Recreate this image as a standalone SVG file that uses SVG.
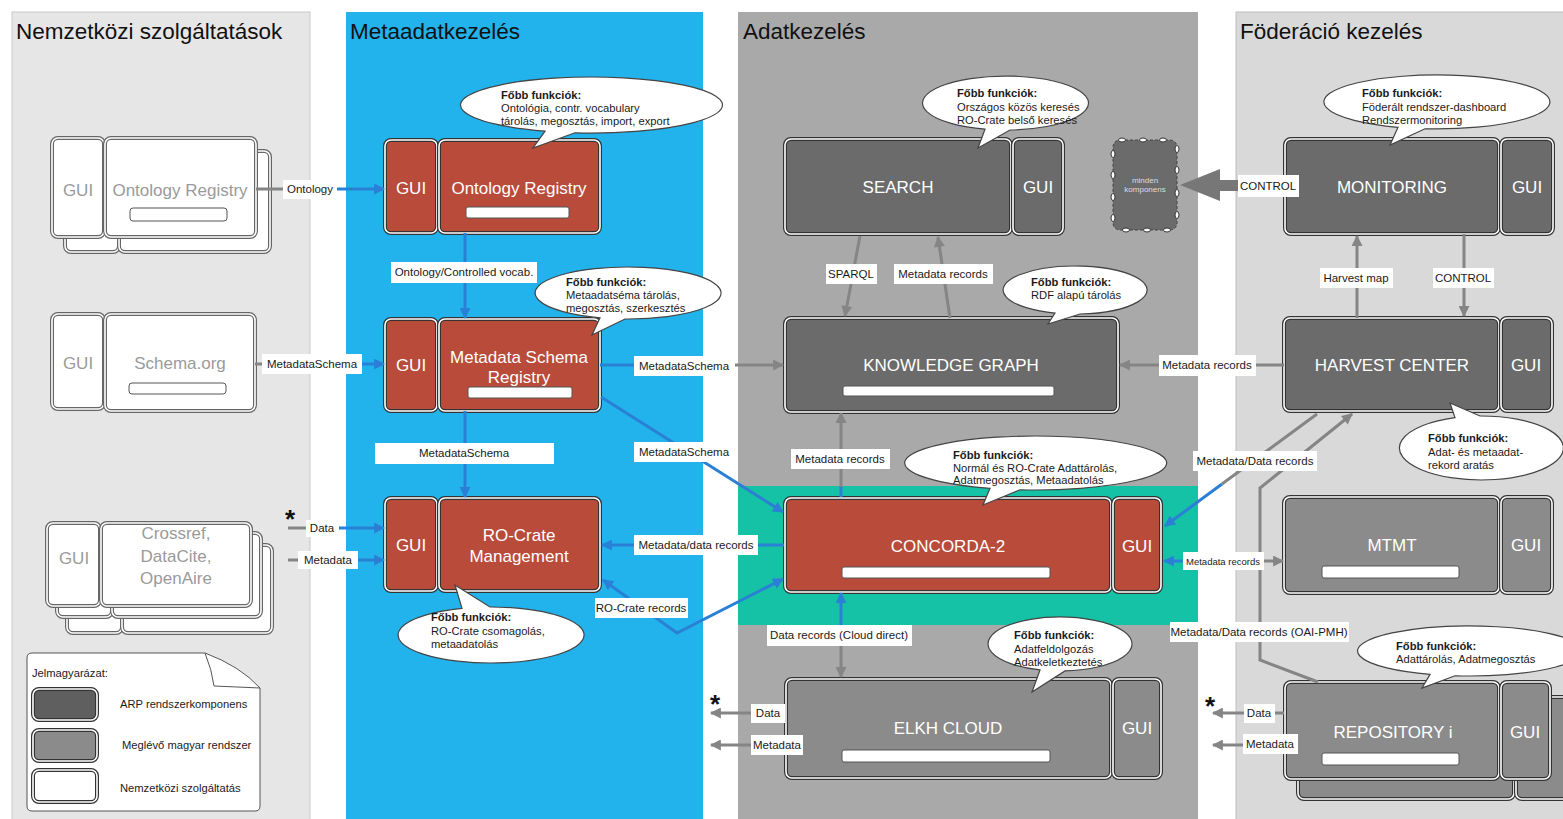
<svg xmlns="http://www.w3.org/2000/svg" width="1563" height="819" viewBox="0 0 1563 819">
<style>
text{font-family:"Liberation Sans",Arial,sans-serif}
.title{font-size:22.5px;fill:#111}
.o{stroke:#333;stroke-width:4}
.ow{stroke:#666;stroke-width:4}
.i{fill:none;stroke:#fff;stroke-width:1.6}
.red{fill:#b84b3a}.dk{fill:#6b6b6b}.md{fill:#8b8b8b}.wh{fill:#fff}
.nl{font-size:17px;fill:#fff;text-anchor:middle}
.wl{font-size:17px;fill:#9a9a9a;text-anchor:middle}
.bar{fill:#fff;stroke:#555;stroke-width:1}
.bl{stroke:#2a80d4;stroke-width:3;fill:none}
.gr{stroke:#858585;stroke-width:3;fill:none}
.lb{fill:#fff}
.cl{font-size:11.5px;fill:#1a1a1a;text-anchor:middle}
.co{fill:#fff;stroke:#444;stroke-width:1.2}
.ct{font-size:11.2px;fill:#1a1a1a}
.cb{font-weight:bold}
.star{font-size:26px;font-weight:bold;fill:#111}
.lg{font-size:11.2px;fill:#1a1a1a}
.hd{fill:#fff;stroke:#333;stroke-width:1}
</style>
<defs>
<marker id="ab" viewBox="0 0 10 10" refX="9" refY="5" markerUnits="userSpaceOnUse" markerWidth="12" markerHeight="11" orient="auto-start-reverse"><path d="M0,0 L10,5 L0,10 z" fill="#2a80d4"/></marker>
<marker id="ag" viewBox="0 0 10 10" refX="9" refY="5" markerUnits="userSpaceOnUse" markerWidth="12" markerHeight="11" orient="auto-start-reverse"><path d="M0,0 L10,5 L0,10 z" fill="#858585"/></marker>
</defs>
<rect width="1563" height="819" fill="#fff"/>
<g id="columns">
<rect x="12" y="12" width="298" height="820" fill="#e6e6e6" stroke="#c9c9c9"/>
<rect x="346" y="12" width="357" height="820" fill="#22b2ec"/>
<rect x="738" y="12" width="460" height="820" fill="#a9a9a9"/>
<rect x="1236" y="12" width="340" height="820" fill="#d9d9d9" stroke="#bdbdbd"/>
<rect x="738" y="486" width="460" height="139" fill="#16c2a6"/>
<text class="title" x="16" y="39">Nemzetközi szolgáltatások</text>
<text class="title" x="350" y="39">Metaadatkezelés</text>
<text class="title" x="743" y="39">Adatkezelés</text>
<text class="title" x="1240" y="39">Föderáció kezelés</text>
</g>
<g id="legend">
<path d="M32 653 L205 653 Q240 666 260 688 L260 806 Q260 811 255 811 L32 811 Q27 811 27 806 L27 658 Q27 653 32 653 Z" fill="#fff" stroke="#555" stroke-width="1"/>
<path d="M205 653 Q212 670 214 686 L260 688" fill="none" stroke="#555" stroke-width="1"/>
<text class="lg" x="32" y="677">Jelmagyarázat:</text>
<rect class="o" x="33" y="689" width="64" height="31" rx="6" fill="#5f5f5f"/><rect class="i" x="33" y="689" width="64" height="31" rx="6"/>
<rect class="o" x="33" y="730" width="64" height="31" rx="6" fill="#8b8b8b"/><rect class="i" x="33" y="730" width="64" height="31" rx="6"/>
<rect class="o" x="33" y="770" width="64" height="32" rx="6" fill="#fff"/><rect class="i" x="33" y="770" width="64" height="32" rx="6"/>
<text class="lg" x="120" y="708">ARP rendszerkomponens</text>
<text class="lg" x="122" y="749">Meglévő magyar rendszer</text>
<text class="lg" x="120" y="792">Nemzetközi szolgáltatás</text>
</g>
<g id="int-ontology">
<rect class="ow wh" x="65" y="151" width="54" height="101" rx="6"/><rect class="i" x="65" y="151" width="54" height="101" rx="6"/>
<rect class="ow wh" x="119" y="151" width="151" height="101" rx="6"/><rect class="i" x="119" y="151" width="151" height="101" rx="6"/>
<rect class="ow wh" x="52" y="138" width="52" height="99" rx="6"/><rect class="i" x="52" y="138" width="52" height="99" rx="6"/>
<rect class="ow wh" x="105" y="138" width="151" height="99" rx="6"/><rect class="i" x="105" y="138" width="151" height="99" rx="6"/>
<text class="wl" x="78" y="196">GUI</text>
<text class="wl" x="180" y="196">Ontology Registry</text>
<rect class="bar" x="130" y="208" width="97" height="13" rx="3"/>
</g>
<g id="int-schema">
<rect class="ow wh" x="52" y="314" width="52" height="95" rx="6"/><rect class="i" x="52" y="314" width="52" height="95" rx="6"/>
<rect class="ow wh" x="105" y="314" width="150" height="97" rx="6"/><rect class="i" x="105" y="314" width="150" height="97" rx="6"/>
<text class="wl" x="78" y="369">GUI</text>
<text class="wl" x="180" y="369">Schema.org</text>
<rect class="bar" x="129" y="383" width="97" height="11" rx="3"/>
</g>
<g id="int-crossref">
<rect class="ow wh" x="67" y="545" width="55" height="88" rx="6"/><rect class="i" x="67" y="545" width="55" height="88" rx="6"/>
<rect class="ow wh" x="122" y="545" width="150" height="88" rx="6"/><rect class="i" x="122" y="545" width="150" height="88" rx="6"/>
<rect class="ow wh" x="57" y="533" width="55" height="84" rx="6"/><rect class="i" x="57" y="533" width="55" height="84" rx="6"/>
<rect class="ow wh" x="112" y="533" width="149" height="84" rx="6"/><rect class="i" x="112" y="533" width="149" height="84" rx="6"/>
<rect class="ow wh" x="47" y="523" width="53" height="83" rx="6"/><rect class="i" x="47" y="523" width="53" height="83" rx="6"/>
<rect class="ow wh" x="101" y="523" width="150" height="83" rx="6"/><rect class="i" x="101" y="523" width="150" height="83" rx="6"/>
<text class="wl" x="74" y="564">GUI</text>
<text class="wl" x="176" y="539">Crossref,</text>
<text class="wl" x="176" y="562">DataCite,</text>
<text class="wl" x="176" y="584">OpenAire</text>
</g>
<g id="meta-ontology">
<rect class="o red" x="385" y="140" width="52" height="93" rx="6"/><rect class="i" x="385" y="140" width="52" height="93" rx="6"/>
<rect class="o red" x="439" y="140" width="161" height="93" rx="6"/><rect class="i" x="439" y="140" width="161" height="93" rx="6"/>
<text class="nl" x="411" y="194">GUI</text>
<text class="nl" x="519" y="194">Ontology Registry</text>
<rect class="bar" x="466" y="207" width="103" height="11" rx="2"/>
</g>
<g id="meta-schema">
<rect class="o red" x="385" y="319" width="52" height="92" rx="6"/><rect class="i" x="385" y="319" width="52" height="92" rx="6"/>
<rect class="o red" x="439" y="319" width="161" height="92" rx="6"/><rect class="i" x="439" y="319" width="161" height="92" rx="6"/>
<text class="nl" x="411" y="371">GUI</text>
<text class="nl" x="519" y="363">Metadata Schema</text>
<text class="nl" x="519" y="383">Registry</text>
<rect class="bar" x="468" y="387" width="104" height="11" rx="2"/>
</g>
<g id="meta-rocrate">
<rect class="o red" x="385" y="498" width="52" height="93" rx="6"/><rect class="i" x="385" y="498" width="52" height="93" rx="6"/>
<rect class="o red" x="439" y="498" width="161" height="93" rx="6"/><rect class="i" x="439" y="498" width="161" height="93" rx="6"/>
<text class="nl" x="411" y="551">GUI</text>
<text class="nl" x="519" y="541">RO-Crate</text>
<text class="nl" x="519" y="562">Management</text>
</g>
<g id="search">
<rect class="o dk" x="785" y="139" width="226" height="95" rx="6"/><rect class="i" x="785" y="139" width="226" height="95" rx="6"/>
<rect class="o dk" x="1013" y="139" width="50" height="95" rx="6"/><rect class="i" x="1013" y="139" width="50" height="95" rx="6"/>
<text class="nl" x="898" y="193">SEARCH</text>
<text class="nl" x="1038" y="193">GUI</text>
</g>
<g id="minden">
<rect x="1113" y="140" width="64" height="90" rx="7" fill="#6b6b6b" stroke="#444" stroke-width="1" stroke-dasharray="3 2"/>
<ellipse class="hd" cx="1122" cy="140" rx="3.5" ry="2"/><ellipse class="hd" cx="1143" cy="140" rx="3.5" ry="2"/><ellipse class="hd" cx="1163" cy="140" rx="3.5" ry="2"/>
<ellipse class="hd" cx="1126" cy="230" rx="3.5" ry="2"/><ellipse class="hd" cx="1147" cy="230" rx="3.5" ry="2"/><ellipse class="hd" cx="1167" cy="230" rx="3.5" ry="2"/>
<ellipse class="hd" cx="1113" cy="154" rx="2" ry="3.5"/><ellipse class="hd" cx="1113" cy="175" rx="2" ry="3.5"/><ellipse class="hd" cx="1113" cy="197" rx="2" ry="3.5"/><ellipse class="hd" cx="1113" cy="218" rx="2" ry="3.5"/>
<ellipse class="hd" cx="1177" cy="149" rx="2" ry="3.5"/><ellipse class="hd" cx="1177" cy="170" rx="2" ry="3.5"/><ellipse class="hd" cx="1177" cy="193" rx="2" ry="3.5"/><ellipse class="hd" cx="1177" cy="215" rx="2" ry="3.5"/>
<text x="1145" y="183" font-size="8" fill="#ddd" text-anchor="middle">minden</text>
<text x="1145" y="192" font-size="8" fill="#ddd" text-anchor="middle">komponens</text>
</g>
<g id="knowledge-graph">
<rect class="o dk" x="785" y="318" width="333" height="94" rx="6"/><rect class="i" x="785" y="318" width="333" height="94" rx="6"/>
<text class="nl" x="951" y="371">KNOWLEDGE GRAPH</text>
<rect class="bar" x="843" y="386" width="211" height="10" rx="2"/>
</g>
<g id="concorda">
<rect class="o red" x="785" y="498" width="326" height="94" rx="6"/><rect class="i" x="785" y="498" width="326" height="94" rx="6"/>
<rect class="o red" x="1113" y="498" width="48" height="94" rx="6"/><rect class="i" x="1113" y="498" width="48" height="94" rx="6"/>
<text class="nl" x="948" y="552">CONCORDA-2</text>
<text class="nl" x="1137" y="552">GUI</text>
<rect class="bar" x="842" y="567" width="208" height="11" rx="2"/>
</g>
<g id="elkh">
<rect class="o md" x="786" y="679" width="325" height="99" rx="6"/><rect class="i" x="786" y="679" width="325" height="99" rx="6"/>
<rect class="o md" x="1113" y="679" width="48" height="99" rx="6"/><rect class="i" x="1113" y="679" width="48" height="99" rx="6"/>
<text class="nl" x="948" y="734">ELKH CLOUD</text>
<text class="nl" x="1137" y="734">GUI</text>
<rect class="bar" x="842" y="750" width="208" height="12" rx="2"/>
</g>
<g id="monitoring">
<rect class="o dk" x="1285" y="139" width="214" height="95" rx="6"/><rect class="i" x="1285" y="139" width="214" height="95" rx="6"/>
<rect class="o dk" x="1501" y="139" width="52" height="95" rx="6"/><rect class="i" x="1501" y="139" width="52" height="95" rx="6"/>
<text class="nl" x="1392" y="193">MONITORING</text>
<text class="nl" x="1527" y="193">GUI</text>
</g>
<g id="harvest">
<rect class="o dk" x="1284" y="318" width="215" height="93" rx="6"/><rect class="i" x="1284" y="318" width="215" height="93" rx="6"/>
<rect class="o dk" x="1501" y="318" width="51" height="93" rx="6"/><rect class="i" x="1501" y="318" width="51" height="93" rx="6"/>
<text class="nl" x="1392" y="371">HARVEST CENTER</text>
<text class="nl" x="1526" y="371">GUI</text>
</g>
<g id="mtmt">
<rect class="o md" x="1284" y="497" width="215" height="96" rx="6"/><rect class="i" x="1284" y="497" width="215" height="96" rx="6"/>
<rect class="o md" x="1501" y="497" width="51" height="96" rx="6"/><rect class="i" x="1501" y="497" width="51" height="96" rx="6"/>
<text class="nl" x="1392" y="551">MTMT</text>
<text class="nl" x="1526" y="551">GUI</text>
<rect class="bar" x="1322" y="566" width="137" height="12" rx="2"/>
</g>
<g id="repository">
<rect class="o md" x="1298" y="697" width="216" height="102" rx="6"/><rect class="i" x="1298" y="697" width="216" height="102" rx="6"/>
<rect class="o md" x="1516" y="697" width="55" height="102" rx="6"/><rect class="i" x="1516" y="697" width="55" height="102" rx="6"/>
<rect class="o md" x="1285" y="682" width="214" height="97" rx="6"/><rect class="i" x="1285" y="682" width="214" height="97" rx="6"/>
<rect class="o md" x="1501" y="682" width="49" height="97" rx="6"/><rect class="i" x="1501" y="682" width="49" height="97" rx="6"/>
<text class="nl" x="1393" y="738">REPOSITORY i</text>
<text class="nl" x="1525" y="738">GUI</text>
<rect class="bar" x="1322" y="753" width="137" height="12" rx="2"/>
</g>
<g id="connectors">
<line class="gr" x1="256" y1="189" x2="283" y2="189"/>
<line class="bl" x1="337" y1="189" x2="384" y2="189" marker-end="url(#ab)"/>
<line class="gr" x1="255" y1="364" x2="262" y2="364"/>
<line class="bl" x1="362" y1="364" x2="384" y2="364" marker-end="url(#ab)"/>
<line class="gr" x1="288" y1="528" x2="306" y2="528"/>
<line class="bl" x1="339" y1="528" x2="384" y2="528" marker-end="url(#ab)"/>
<line class="gr" x1="288" y1="560" x2="298" y2="560"/>
<line class="bl" x1="358" y1="560" x2="384" y2="560" marker-end="url(#ab)"/>
<line class="bl" x1="465" y1="233" x2="465" y2="318" marker-end="url(#ab)"/>
<line class="bl" x1="465" y1="411" x2="465" y2="497" marker-end="url(#ab)"/>
<line class="bl" x1="600" y1="365" x2="634" y2="365"/>
<line class="gr" x1="735" y1="365" x2="783" y2="365" marker-end="url(#ag)"/>
<line class="bl" x1="601" y1="397" x2="783" y2="512" marker-end="url(#ab)"/>
<line class="bl" x1="784" y1="545" x2="602" y2="545" marker-end="url(#ab)"/>
<polyline class="bl" points="783,579 677,633 603,580" marker-start="url(#ab)" marker-end="url(#ab)"/>
<line class="bl" x1="841" y1="497" x2="841" y2="486"/>
<line class="gr" x1="841" y1="487" x2="841" y2="413" marker-end="url(#ag)"/>
<line class="bl" x1="841" y1="625" x2="841" y2="593" marker-end="url(#ab)"/>
<line class="gr" x1="841" y1="625" x2="841" y2="677" marker-end="url(#ag)"/>
<line class="gr" x1="860" y1="236" x2="845" y2="316" marker-end="url(#ag)"/>
<line class="gr" x1="950" y1="318" x2="938" y2="237" marker-end="url(#ag)"/>
<line class="gr" x1="1284" y1="365" x2="1120" y2="365" marker-end="url(#ag)"/>
<path d="M1180 185 L1220 169 L1220 180 L1240 180 L1240 191 L1220 191 L1220 201 Z" fill="#777"/>
<line class="gr" x1="1357" y1="318" x2="1357" y2="236" marker-end="url(#ag)"/>
<line class="gr" x1="1464" y1="234" x2="1464" y2="316" marker-end="url(#ag)"/>
<line class="gr" x1="1317" y1="414" x2="1222" y2="484"/>
<line class="bl" x1="1222" y1="484" x2="1165" y2="526" marker-end="url(#ab)"/>
<line class="bl" x1="1198" y1="561" x2="1164" y2="561" marker-end="url(#ab)"/>
<line class="gr" x1="1198" y1="561" x2="1283" y2="561" marker-end="url(#ag)"/>
<polyline class="gr" points="1318,682 1260,660 1260,488 1352,414" marker-end="url(#ag)"/>
<line class="gr" x1="785" y1="713" x2="711" y2="713" marker-end="url(#ag)"/>
<line class="gr" x1="785" y1="745" x2="711" y2="745" marker-end="url(#ag)"/>
<line class="gr" x1="1284" y1="713" x2="1213" y2="713" marker-end="url(#ag)"/>
<line class="gr" x1="1284" y1="745" x2="1213" y2="745" marker-end="url(#ag)"/>
<rect class="lb" x="283" y="180" width="54" height="19"/><text class="cl" x="310" y="193">Ontology</text>
<rect class="lb" x="262" y="354" width="100" height="20"/><text class="cl" x="312" y="368">MetadataSchema</text>
<rect class="lb" x="306" y="520" width="33" height="17"/><text class="cl" x="322" y="532">Data</text>
<rect class="lb" x="298" y="551" width="60" height="18"/><text class="cl" x="328" y="564">Metadata</text>
<rect class="lb" x="391" y="262" width="146" height="21"/><text class="cl" x="464" y="276">Ontology/Controlled vocab.</text>
<rect class="lb" x="375" y="443" width="179" height="21"/><text class="cl" x="464" y="457">MetadataSchema</text>
<rect class="lb" x="634" y="356" width="100" height="20"/><text class="cl" x="684" y="370">MetadataSchema</text>
<rect class="lb" x="634" y="442" width="100" height="20"/><text class="cl" x="684" y="456">MetadataSchema</text>
<rect class="lb" x="634" y="535" width="124" height="20"/><text class="cl" x="696" y="549">Metadata/data records</text>
<rect class="lb" x="595" y="598" width="93" height="20"/><text class="cl" x="641" y="612">RO-Crate records</text>
<rect class="lb" x="791" y="449" width="99" height="20"/><text class="cl" x="840" y="463">Metadata records</text>
<rect class="lb" x="767" y="625" width="145" height="21"/><text class="cl" x="839" y="639">Data records (Cloud direct)</text>
<rect class="lb" x="826" y="264" width="51" height="20"/><text class="cl" x="851" y="278">SPARQL</text>
<rect class="lb" x="894" y="264" width="99" height="20"/><text class="cl" x="943" y="278">Metadata records</text>
<rect class="lb" x="1159" y="355" width="97" height="21"/><text class="cl" x="1207" y="369">Metadata records</text>
<rect class="lb" x="1238" y="175" width="61" height="22"/><text class="cl" x="1268" y="190">CONTROL</text>
<rect class="lb" x="1320" y="268" width="73" height="20"/><text class="cl" x="1356" y="282">Harvest map</text>
<rect class="lb" x="1433" y="268" width="61" height="20"/><text class="cl" x="1463" y="282">CONTROL</text>
<rect class="lb" x="1193" y="451" width="124" height="20"/><text class="cl" x="1255" y="465">Metadata/Data records</text>
<rect class="lb" x="1183" y="552" width="81" height="18"/><text class="cl" x="1223" y="564.5" style="font-size:9.5px">Metadata records</text>
<rect class="lb" x="1170" y="622" width="179" height="20"/><text class="cl" x="1259" y="636">Metadata/Data records (OAI-PMH)</text>
<rect class="lb" x="751" y="704" width="34" height="19"/><text class="cl" x="768" y="717">Data</text>
<rect class="lb" x="751" y="735" width="52" height="20"/><text class="cl" x="777" y="749">Metadata</text>
<rect class="lb" x="1244" y="704" width="31" height="19"/><text class="cl" x="1259" y="717">Data</text>
<rect class="lb" x="1243" y="734" width="55" height="20"/><text class="cl" x="1270" y="748">Metadata</text>
<text class="star" x="285" y="528">*</text>
<text class="star" x="710" y="713">*</text>
<text class="star" x="1205" y="715">*</text>
</g>
<g id="callouts">
<path class="co" d="M575 132.8 A131 28 0 1 0 545 131.2 L533 148 Z"/>
<text class="ct cb" x="501" y="99">Főbb funkciók:</text>
<text class="ct" x="501" y="112">Ontológia, contr. vocabulary</text>
<text class="ct" x="501" y="125">tárolás, megosztás, import, export</text>
<path class="co" d="M625 319 A93 26 0 1 0 600 317.8 L592 335 Z"/>
<text class="ct cb" x="566" y="286">Főbb funkciók:</text>
<text class="ct" x="566" y="299">Metaadatséma tárolás,</text>
<text class="ct" x="566" y="312">megosztás, szerkesztés</text>
<path class="co" d="M462 608.4 A93 28 0 1 0 490 607 L455 585 Z"/>
<text class="ct cb" x="431" y="621">Főbb funkciók:</text>
<text class="ct" x="431" y="635">RO-Crate csomagolás,</text>
<text class="ct" x="431" y="648">metaadatolás</text>
<path class="co" d="M1010 130 A83 27 0 1 0 985 129.2 L978 148 Z"/>
<text class="ct cb" x="957" y="97">Főbb funkciók:</text>
<text class="ct" x="957" y="111">Országos közös keresés</text>
<text class="ct" x="957" y="124">RO-Crate belső keresés</text>
<path class="co" d="M1080 314 A72 24 0 1 0 1055 313.1 L1048 324 Z"/>
<text class="ct cb" x="1031" y="286">Főbb funkciók:</text>
<text class="ct" x="1031" y="299">RDF alapú tárolás</text>
<path class="co" d="M1020 489.8 A131 27 0 1 0 990 488.3 L983 505 Z"/>
<text class="ct cb" x="953" y="459">Főbb funkciók:</text>
<text class="ct" x="953" y="472">Normál és RO-Crate Adattárolás,</text>
<text class="ct" x="953" y="484">Adatmegosztás, Metaadatolás</text>
<path class="co" d="M1065 670.9 A72 27 0 1 0 1040 669.9 L1032 692 Z"/>
<text class="ct cb" x="1014" y="639">Főbb funkciók:</text>
<text class="ct" x="1014" y="653">Adatfeldolgozás</text>
<text class="ct" x="1014" y="666">Adatkeletkeztetés</text>
<path class="co" d="M1425 128.8 A113 27 0 1 0 1398 127.3 L1390 145 Z"/>
<text class="ct cb" x="1362" y="97">Főbb funkciók:</text>
<text class="ct" x="1362" y="111">Föderált rendszer-dashboard</text>
<text class="ct" x="1362" y="124">Rendszermonitoring</text>
<path class="co" d="M1455 417.7 A82 32 0 1 0 1480 416 L1450 403 Z"/>
<text class="ct cb" x="1428" y="442">Főbb funkciók:</text>
<text class="ct" x="1428" y="456">Adat- és metaadat-</text>
<text class="ct" x="1428" y="469">rekord aratás</text>
<path class="co" d="M1455 675.8 A112 25 0 1 0 1430 674.4 L1422 688 Z"/>
<text class="ct cb" x="1396" y="650">Főbb funkciók:</text>
<text class="ct" x="1396" y="663">Adattárolás, Adatmegosztás</text>
</g>
</svg>
